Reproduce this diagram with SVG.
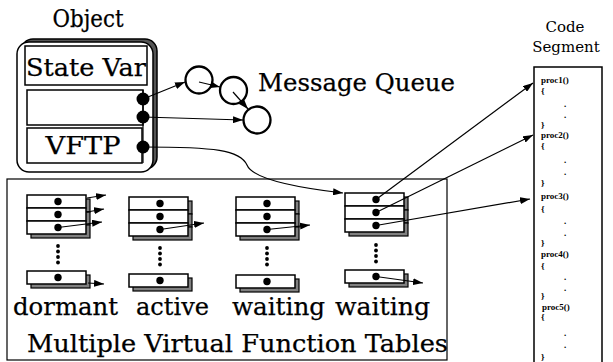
<svg xmlns="http://www.w3.org/2000/svg" width="613" height="362" viewBox="0 0 613 362">
<defs>
<style>
.big{font-family:"DejaVu Serif","Liberation Serif",serif;font-size:24px;fill:#000;stroke:#000;stroke-width:0.25}
.mid{font-family:"DejaVu Serif","Liberation Serif",serif;font-size:15px;fill:#000}
.code{font-family:"Liberation Serif","DejaVu Serif",serif;font-size:9px;font-weight:bold;fill:#000}
.box{fill:#fff;stroke:#000;stroke-width:1.5}
.sh{fill:#808080;stroke:#000;stroke-width:1.2}
.ln{fill:none;stroke:#000;stroke-width:1.2}
.q{fill:none;stroke:#000;stroke-width:2.3}
.dot{fill:#000}
</style>
<marker id="ah" viewBox="0 0 10 7" refX="10" refY="3.5" markerUnits="userSpaceOnUse" markerWidth="10" markerHeight="7" orient="auto">
<path d="M0,0 L10,3.5 L0,7 z" fill="#000"/>
</marker>
<g id="row">
<rect class="sh" x="4" y="4" width="59" height="13"/>
<rect class="box" x="0" y="0" width="59" height="13"/>
<circle class="dot" cx="31" cy="6.5" r="3.7"/>
</g>
<g id="vdots">
<circle class="dot" cx="0" cy="0" r="1.9"/>
<circle class="dot" cx="0" cy="5.5" r="1.9"/>
<circle class="dot" cx="0" cy="11" r="1.9"/>
<circle class="dot" cx="0" cy="16.5" r="1.9"/>
</g>
</defs>
<rect width="613" height="362" fill="#fff"/>

<g id="object">
<text class="big" x="88" y="27" text-anchor="middle" textLength="71" lengthAdjust="spacingAndGlyphs">Object</text>
<rect x="21" y="39" width="136" height="130" rx="12" fill="#555" stroke="#000" stroke-width="1.5"/>
<rect x="17" y="42" width="136" height="130" rx="12" fill="#fff" stroke="#000" stroke-width="1.5"/>
<rect class="box" x="25" y="46" width="122" height="39"/>
<text class="big" x="86" y="76" text-anchor="middle" textLength="120" lengthAdjust="spacingAndGlyphs">State Var</text>
<rect class="box" x="27" y="90" width="116" height="35"/>
<rect class="box" x="27" y="128" width="115" height="35"/>
<text class="big" x="83" y="154" text-anchor="middle" textLength="75" lengthAdjust="spacingAndGlyphs">VFTP</text>
<circle class="dot" cx="143" cy="99" r="6.5"/>
<circle class="dot" cx="143" cy="117" r="6.5"/>
<circle class="dot" cx="143" cy="147" r="6.5"/>
</g>

<g id="queue">
<circle class="q" cx="199" cy="80" r="13.5"/>
<circle class="q" cx="233.5" cy="90.5" r="13.5"/>
<circle class="q" cx="257" cy="120" r="13.5"/>
<text class="big" x="258" y="91" textLength="197" lengthAdjust="spacingAndGlyphs">Message Queue</text>
</g>

<g id="code-segment">
<text class="mid" x="565" y="32" text-anchor="middle">Code</text>
<text class="mid" x="566" y="52" text-anchor="middle">Segment</text>
<rect x="534" y="67" width="68" height="305" fill="#fff" stroke="#000" stroke-width="1.5"/>
<text class="code" x="541" y="83">proc1()</text>
<text class="code" x="541" y="94">{</text>
<text class="code" x="564" y="107">.</text>
<text class="code" x="564" y="118">.</text>
<text class="code" x="541" y="128">}</text>
<text class="code" x="541" y="138">proc2()</text>
<text class="code" x="541" y="149">{</text>
<text class="code" x="564" y="163">.</text>
<text class="code" x="564" y="175">.</text>
<text class="code" x="541" y="186">}</text>
<text class="code" x="541" y="199">proc3()</text>
<text class="code" x="541" y="212">{</text>
<text class="code" x="564" y="224">.</text>
<text class="code" x="564" y="236">.</text>
<text class="code" x="541" y="246">}</text>
<text class="code" x="541" y="257">proc4()</text>
<text class="code" x="541" y="269">{</text>
<text class="code" x="564" y="280">.</text>
<text class="code" x="564" y="291">.</text>
<text class="code" x="541" y="299">}</text>
<text class="code" x="542" y="310">proc5()</text>
<text class="code" x="541" y="320">{</text>
<text class="code" x="564" y="336">.</text>
<text class="code" x="564" y="348">.</text>
<text class="code" x="541" y="360">}</text>
</g>

<g id="vft-container">
<rect x="7" y="179" width="440" height="181" fill="none" stroke="#000" stroke-width="1.2"/>
<text class="big" x="27" y="352" textLength="421" lengthAdjust="spacingAndGlyphs">Multiple Virtual Function Tables</text>
</g>

<g id="table-dormant">
<use href="#row" x="27" y="195"/>
<use href="#row" x="27" y="208"/>
<use href="#row" x="27" y="221"/>
<use href="#vdots" x="58" y="246"/>
<use href="#row" x="27" y="271"/>
<text class="big" x="13" y="315" textLength="105" lengthAdjust="spacingAndGlyphs">dormant</text>
</g>
<g id="table-active">
<use href="#row" x="129" y="197"/>
<use href="#row" x="129" y="210"/>
<use href="#row" x="129" y="223"/>
<use href="#vdots" x="160" y="248"/>
<use href="#row" x="129" y="274"/>
<text class="big" x="136" y="315" textLength="73" lengthAdjust="spacingAndGlyphs">active</text>
</g>
<g id="table-waiting-1">
<use href="#row" x="236" y="197"/>
<use href="#row" x="236" y="210"/>
<use href="#row" x="236" y="223"/>
<use href="#vdots" x="267" y="248"/>
<use href="#row" x="236" y="275"/>
<text class="big" x="232" y="315" textLength="93" lengthAdjust="spacingAndGlyphs">waiting</text>
</g>
<g id="table-waiting-2">
<use href="#row" x="345" y="193"/>
<use href="#row" x="345" y="206"/>
<use href="#row" x="345" y="219"/>
<use href="#vdots" x="376" y="245"/>
<use href="#row" x="345" y="270"/>
<text class="big" x="335" y="315" textLength="95" lengthAdjust="spacingAndGlyphs">waiting</text>
</g>

<g id="connectors">
<line class="ln" x1="143" y1="90" x2="143" y2="163"/>
<line class="ln" x1="143" y1="99" x2="185" y2="82" marker-end="url(#ah)"/>
<line class="ln" x1="199" y1="82" x2="220" y2="87" marker-end="url(#ah)"/>
<line class="ln" x1="233" y1="92" x2="248" y2="109" marker-end="url(#ah)"/>
<line class="ln" x1="143" y1="117" x2="243" y2="120" marker-end="url(#ah)"/>
<path class="ln" d="M143,147 C215,147 240,150 247,165 C253,180 300,188 343,193" marker-end="url(#ah)"/>
<line class="ln" x1="87" y1="198" x2="106" y2="195" marker-end="url(#ah)"/>
<line class="ln" x1="87" y1="212" x2="104" y2="209" marker-end="url(#ah)"/>
<line class="ln" x1="58" y1="227.5" x2="102" y2="222" marker-end="url(#ah)"/>
<line class="ln" x1="88" y1="283" x2="104" y2="284" marker-end="url(#ah)"/>
<line class="ln" x1="160" y1="229.5" x2="204" y2="223" marker-end="url(#ah)"/>
<line class="ln" x1="267" y1="229.5" x2="310" y2="225" marker-end="url(#ah)"/>
<line class="ln" x1="376" y1="199.5" x2="533" y2="83" marker-end="url(#ah)"/>
<line class="ln" x1="376" y1="212.5" x2="533" y2="135" marker-end="url(#ah)"/>
<line class="ln" x1="376" y1="225.5" x2="530" y2="199" marker-end="url(#ah)"/>
<line class="ln" x1="376" y1="276.5" x2="423" y2="283" marker-end="url(#ah)"/>
</g>
</svg>
